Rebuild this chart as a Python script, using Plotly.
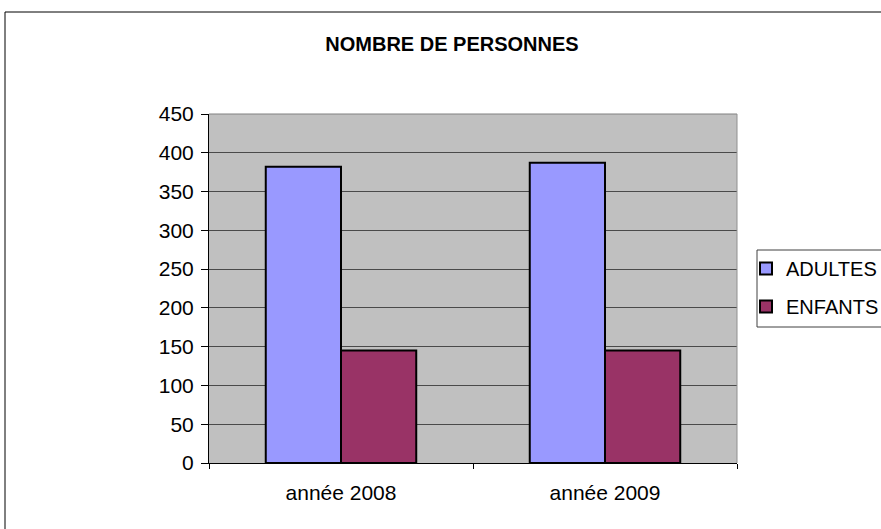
import plotly.graph_objects as go

categories = ["année 2008", "année 2009"]
adultes = [382, 387]
enfants = [145, 145]
y_ticks = [0, 50, 100, 150, 200, 250, 300, 350, 400, 450]

L, R, T, B = 209, 144, 114, 66
W, H = 881, 529
pw, ph = W - L - R, H - T - B

def px_x(x):
    return (x - L) / pw

def px_y(y):
    return (H - B - y) / ph

FONT = "Liberation Sans, Arial, sans-serif"

fig = go.Figure()
fig.add_trace(go.Bar(x=categories, y=adultes, name="ADULTES",
                     marker=dict(color="#9999FF", line=dict(color="black", width=2)),
                     legendgroup="a"))
fig.add_trace(go.Bar(x=categories, y=enfants, name="ENFANTS",
                     marker=dict(color="#993366", line=dict(color="black", width=2)),
                     legendgroup="b"))

fig.update_layout(
    width=W, height=H,
    margin=dict(l=L, r=R, t=T, b=B, autoexpand=False),
    paper_bgcolor="white",
    plot_bgcolor="#C0C0C0",
    barmode="group", bargap=0.43, bargroupgap=0,
    font=dict(family=FONT, size=21, color="black"),
    title=dict(text="<b>NOMBRE DE PERSONNES</b>", x=px_x(452), xref="paper",
               xanchor="center", y=1 - 44 / H, yanchor="middle",
               font=dict(size=20, family=FONT)),
    showlegend=True,
    legend=dict(x=px_x(746), y=px_y(249), xanchor="left", yanchor="top",
                borderwidth=0, bgcolor="rgba(0,0,0,0)",
                font=dict(size=20), traceorder="grouped", tracegroupgap=9,
                itemwidth=30),
    xaxis=dict(type="category", showgrid=False, showline=True, linecolor="black",
               linewidth=1, ticks="outside", tickson="boundaries", ticklen=5,
               tickcolor="black", range=[-0.5, 1.5], ticklabelstandoff=11),
    yaxis=dict(range=[0, 450], tickvals=y_ticks, showgrid=True, gridcolor="#4a4a4a",
               gridwidth=1, showline=True, linecolor="black", linewidth=1,
               ticks="outside", ticklen=7, tickcolor="black", zeroline=False,
               ticklabelstandoff=3),
    shapes=[
        dict(type="line", xref="paper", yref="paper", x0=0, x1=1, y0=1, y1=1,
             line=dict(color="#808080", width=1)),
        dict(type="line", xref="paper", yref="paper", x0=1, x1=1, y0=0, y1=1,
             line=dict(color="#909090", width=1)),
        dict(type="rect", xref="paper", yref="paper",
             x0=px_x(5), x1=px_x(895), y0=px_y(12), y1=px_y(545),
             line=dict(color="black", width=1), layer="below"),
        dict(type="rect", xref="paper", yref="paper",
             x0=px_x(757), x1=px_x(895), y0=px_y(250), y1=px_y(327),
             line=dict(color="#404040", width=1), fillcolor="white", layer="below"),
    ],
)

fig.write_html("out.html", config={"displayModeBar": False},
               post_script="document.body.style.margin='0';")
